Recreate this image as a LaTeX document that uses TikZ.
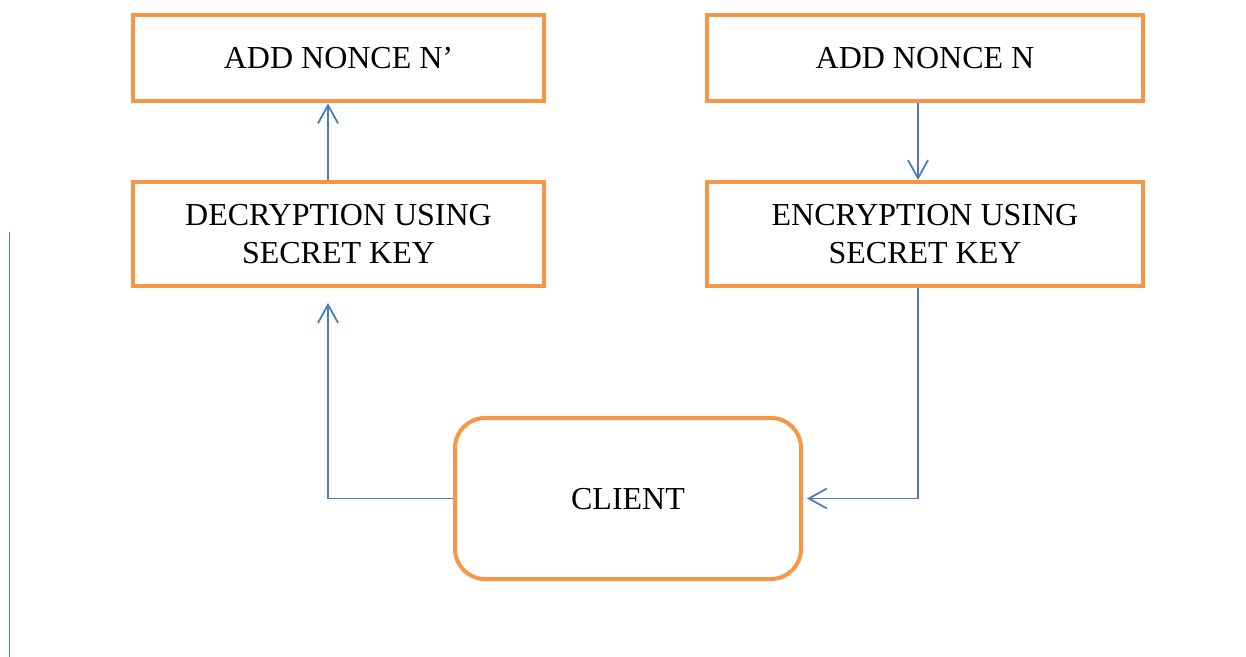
\documentclass[tikz,border=0pt]{standalone}
\usepackage{fontspec}
\setmainfont{Liberation Serif}
\usetikzlibrary{arrows.meta}
\definecolor{boxorange}{HTML}{F79646}
\definecolor{linkblue}{HTML}{4A7EBB}
\begin{document}
\begin{tikzpicture}[x=0.5pt,y=-0.5pt,
  every node/.style={font=\fontsize{16}{19}\selectfont, align=center, inner sep=0pt},
  stagebox/.style={draw=boxorange, line width=2pt, rectangle, text depth=-2pt},
  clientbox/.style={draw=boxorange, line width=2pt, rectangle, rounded corners=15pt, text depth=-2pt},
  link/.style={draw=linkblue, line width=0.9pt, -{Straight Barb[length=9pt,width=10pt,line width=0.9pt]}}
]
\useasboundingbox (0,0) rectangle (1246,657);

% processing stages
\node[stagebox, minimum width=205.5pt, minimum height=43.25pt] (nonceB) at (338.5,58.25) {ADD NONCE N’};
\node[stagebox, minimum width=218pt, minimum height=43.25pt] (nonceA) at (925,58.25) {ADD NONCE N};
\node[stagebox, minimum width=205.5pt, minimum height=52.25pt] (dec) at (338.5,234.25) {DECRYPTION USING\\SECRET KEY};
\node[stagebox, minimum width=218pt, minimum height=52.25pt] (enc) at (925,234.25) {ENCRYPTION USING\\SECRET KEY};
\node[clientbox, minimum width=173pt, minimum height=80.5pt] (client) at (628,498.5) {CLIENT};

% margin rule
\coordinate (ruletop) at (9.5,232);
\coordinate (rulebot) at (9.5,657);
\draw[linkblue, line width=0.9pt] (ruletop) -- (rulebot);

% flow between stages
\draw[link] ([xshift=-3.5pt]nonceA.south) -- ([xshift=-3.5pt]enc.north);
\draw[link, shorten >=2pt] ([xshift=-3.5pt]enc.south) |- (client.east);
\draw[link, shorten >=7.25pt] (client.west) -| ([xshift=-5.25pt]dec.south);
\draw[link] ([xshift=-5.25pt]dec.north) -- ([xshift=-5.25pt]nonceB.south);
\end{tikzpicture}
\end{document}
